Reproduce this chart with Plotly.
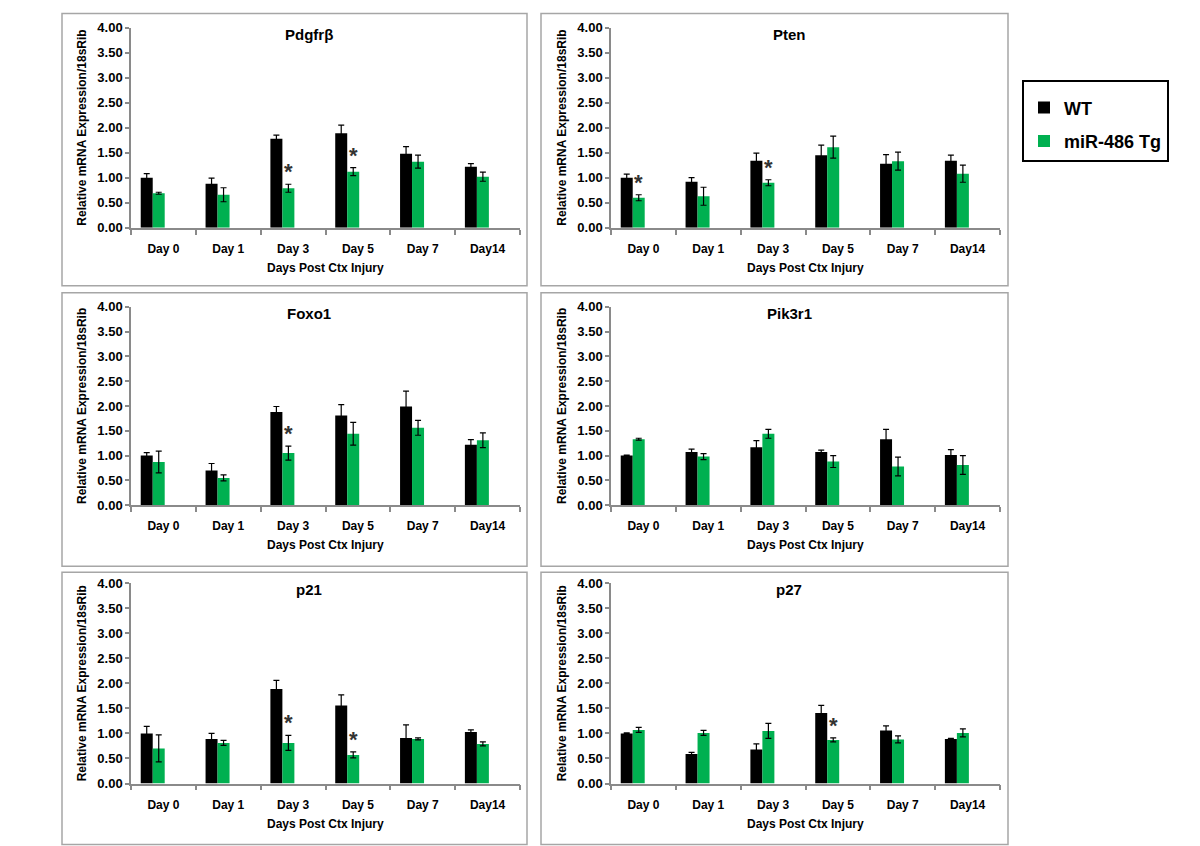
import plotly.graph_objects as go

# ---------------- data ----------------
days = ["Day 0", "Day 1", "Day 3", "Day 5", "Day 7", "Day14"]
genes = ["Pdgfrβ", "Pten", "Foxo1", "Pik3r1", "p21", "p27"]
series_names = ["WT", "miR-486 Tg"]

wt_pdgfrb = [1.00, 0.88, 1.78, 1.89, 1.48, 1.22]
wt_pdgfrb_err = [0.08, 0.11, 0.07, 0.16, 0.14, 0.06]
tg_pdgfrb = [0.69, 0.66, 0.79, 1.12, 1.32, 1.02]
tg_pdgfrb_err = [0.02, 0.14, 0.08, 0.08, 0.13, 0.09]
star_pdgfrb = ["Day 3", "Day 5"]

wt_pten = [1.00, 0.92, 1.34, 1.45, 1.28, 1.34]
wt_pten_err = [0.07, 0.08, 0.15, 0.20, 0.18, 0.11]
tg_pten = [0.60, 0.63, 0.90, 1.61, 1.33, 1.08]
tg_pten_err = [0.06, 0.18, 0.06, 0.22, 0.18, 0.17]
star_pten = ["Day 0", "Day 3"]

wt_foxo1 = [1.00, 0.70, 1.88, 1.81, 1.99, 1.22]
wt_foxo1_err = [0.06, 0.14, 0.11, 0.22, 0.31, 0.10]
tg_foxo1 = [0.87, 0.55, 1.05, 1.44, 1.56, 1.31]
tg_foxo1_err = [0.22, 0.06, 0.14, 0.23, 0.15, 0.15]
star_foxo1 = ["Day 3"]

wt_pik3r1 = [1.00, 1.07, 1.17, 1.07, 1.33, 1.01]
wt_pik3r1_err = [0.01, 0.06, 0.13, 0.04, 0.20, 0.11]
tg_pik3r1 = [1.33, 0.98, 1.44, 0.88, 0.78, 0.81]
tg_pik3r1_err = [0.02, 0.06, 0.09, 0.12, 0.19, 0.19]
star_pik3r1 = []

wt_p21 = [1.00, 0.89, 1.89, 1.56, 0.91, 1.03]
wt_p21_err = [0.14, 0.11, 0.17, 0.21, 0.26, 0.04]
tg_p21 = [0.70, 0.81, 0.81, 0.57, 0.89, 0.79]
tg_p21_err = [0.27, 0.05, 0.15, 0.06, 0.02, 0.04]
star_p21 = ["Day 3", "Day 5"]

wt_p27 = [1.00, 0.59, 0.68, 1.41, 1.06, 0.89]
wt_p27_err = [0.01, 0.03, 0.11, 0.15, 0.09, 0.01]
tg_p27 = [1.07, 1.01, 1.05, 0.87, 0.88, 1.01]
tg_p27_err = [0.05, 0.05, 0.15, 0.04, 0.07, 0.08]
star_p27 = ["Day 5"]

y_ticks = [0, 0.5, 1.0, 1.5, 2.0, 2.5, 3.0, 3.5, 4.0]
y_title = "Relative mRNA Expression/18sRib"
x_title = "Days Post Ctx Injury"

panels = [
    (wt_pdgfrb, wt_pdgfrb_err, tg_pdgfrb, tg_pdgfrb_err, star_pdgfrb),
    (wt_pten, wt_pten_err, tg_pten, tg_pten_err, star_pten),
    (wt_foxo1, wt_foxo1_err, tg_foxo1, tg_foxo1_err, star_foxo1),
    (wt_pik3r1, wt_pik3r1_err, tg_pik3r1, tg_pik3r1_err, star_pik3r1),
    (wt_p21, wt_p21_err, tg_p21, tg_p21_err, star_p21),
    (wt_p27, wt_p27_err, tg_p27, tg_p27_err, star_p27),
]

# ---------------- style / layout ----------------
W, H = 1200, 846
FONT = "Liberation Sans, Arial, sans-serif"
BLACK = "#000000"
GREEN = "#00B050"
AXIS = "#8a8a8a"

col_x = [(131, 520), (611, 1000)]           # plot area x (page px)
row_y = [(28, 228), (307, 505), (583, 783)]  # plot area top/bottom (page px)
col_box = [(62, 527), (541, 1008)]
row_box = [(14, 286), (293, 566), (572, 844)]
title_x = [309, 789]
title_y = [35, 314, 589]
ytitle_x = [82, 562]

bar_w = 0.185
wt_off = -0.35
tg_off = wt_off + bar_w

# observed vertical mapping of the page capture (page = Y0 + K * layout px)
Y0, K = 7.5, 0.981


def fx(p):
    return p / W


def fy(p):
    return 1 - ((p - Y0) / K) / H


fig = go.Figure()
layout = dict(
    width=W, height=H,
    margin=dict(l=0, r=0, t=0, b=0),
    paper_bgcolor="white", plot_bgcolor="white",
    barmode="group",
    font=dict(family=FONT, color="black"),
    showlegend=True,
    legend=dict(
        x=fx(1022), y=fy(80), xanchor="left", yanchor="top",
        bordercolor="black", borderwidth=2, bgcolor="white",
        font=dict(family=FONT, size=18, color="black", weight="bold"),
        title=dict(text=" ", font=dict(size=6)),
        tracegroupgap=7,
    ),
)
annotations = []
shapes = []

for i, (wt, wte, tg, tge, stars) in enumerate(panels):
    r, c = divmod(i, 2)
    n = "" if i == 0 else str(i + 1)
    xa, ya = "x" + n, "y" + n
    fig.add_trace(go.Bar(
        x=days, y=wt, name=series_names[0], marker=dict(color=BLACK, line=dict(width=0)),
        width=bar_w, offset=wt_off, xaxis=xa, yaxis=ya,
        error_y=dict(type="data", array=wte, color="black", thickness=1.2, width=3),
        showlegend=(i == 0), legendgroup="wt",
    ))
    fig.add_trace(go.Bar(
        x=days, y=tg, name=series_names[1], marker=dict(color=GREEN, line=dict(width=0)),
        width=bar_w, offset=tg_off, xaxis=xa, yaxis=ya,
        error_y=dict(type="data", array=tge, color="black", thickness=1.2, width=3),
        showlegend=(i == 0), legendgroup="tg",
    ))
    x0, x1 = col_x[c]
    yt, yb = row_y[r]
    layout["xaxis" + n] = dict(
        domain=[fx(x0), fx(x1)], anchor=ya, type="category", range=[-0.5, 5.5],
        showline=True, linecolor=AXIS, linewidth=1.5, ticks="outside", tickson="boundaries",
        ticklen=5, tickwidth=1.5, tickcolor=AXIS, showgrid=False, zeroline=False,
        tickfont=dict(family=FONT, size=12, color="black", weight="bold"),
        ticklabelstandoff=9,
    )
    layout["yaxis" + n] = dict(
        domain=[fy(yb), fy(yt)], anchor=xa, range=[0, 4], tickvals=y_ticks,
        tickformat=".2f", showline=True, linecolor=AXIS, linewidth=1.5, ticks="outside",
        ticklen=4, tickwidth=1.5, tickcolor=AXIS, showgrid=False, zeroline=False,
        tickfont=dict(family=FONT, size=13, color="black", weight="bold"),
    )
    # panel title
    annotations.append(dict(
        text=genes[i], x=fx(title_x[c]), y=fy(title_y[r]), xref="paper", yref="paper",
        showarrow=False, xanchor="center", yanchor="middle",
        font=dict(family=FONT, size=15, color="black", weight="bold"),
    ))
    # axis titles
    annotations.append(dict(
        text=y_title, x=fx(ytitle_x[c]), y=fy((yt + yb) / 2), xref="paper", yref="paper",
        showarrow=False, textangle=-90, xanchor="center", yanchor="middle",
        font=dict(family=FONT, size=12, color="black", weight="bold"),
    ))
    annotations.append(dict(
        text=x_title, x=fx((x0 + x1) / 2), y=fy(yb + 40), xref="paper", yref="paper",
        showarrow=False, xanchor="center", yanchor="middle",
        font=dict(family=FONT, size=12, color="black", weight="bold"),
    ))
    # significance stars
    cat_px = (x1 - x0) / len(days)
    for d in stars:
        k = days.index(d)
        annotations.append(dict(
            text="*", x=d, y=tg[k] + tge[k], xref=xa, yref=ya, showarrow=False,
            xanchor="center", yanchor="bottom", yshift=-2,
            xshift=(tg_off + bar_w / 2) * cat_px,
            font=dict(family=FONT, size=22, color="#333333", weight="bold"),
        ))
    # panel frame
    bx0, bx1 = col_box[c]
    by0, by1 = row_box[r]
    shapes.append(dict(
        type="rect", xref="paper", yref="paper",
        x0=fx(bx0), x1=fx(bx1), y0=fy(by1), y1=fy(by0),
        line=dict(color="#a6a6a6", width=1.5), fillcolor="rgba(0,0,0,0)", layer="below",
    ))

layout["annotations"] = annotations
layout["shapes"] = shapes
fig.update_layout(**layout)
fig.write_html(
    "out.html",
    config={"displayModeBar": False},
    post_script="document.body.style.margin='0';document.documentElement.style.overflow='hidden';",
)
